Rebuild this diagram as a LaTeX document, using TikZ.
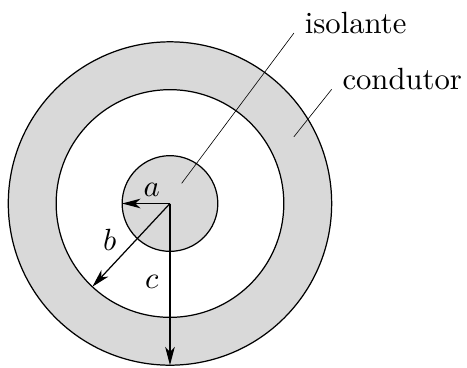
\documentclass[tikz,border=0pt]{standalone}
\usetikzlibrary{arrows.meta}
\tikzset{
    radiusarrow/.style={-{Stealth[length=2.1mm,width=1.1mm,inset=0.6mm]}},
    leader/.style={very thin},
}
\begin{document}
\begin{tikzpicture}
    \useasboundingbox (-1.947,-1.873) rectangle (3.402,2.331);
    % Rings
    \fill[black!15] (0,0) circle (1.852);
    \fill[white] (0,0) circle (1.304);
    \fill[black!15] (0,0) circle (0.548);
    \foreach \r in {0.548,1.304,1.852} {
        \draw (0,0) circle (\r);
    }
    % Radii
    \coordinate (O) at (0,0);
    \coordinate (A) at (180:0.548);
    \coordinate (B) at (227:1.304);
    \coordinate (C) at (270:1.852);
    \draw[radiusarrow] (O) -- (A);
    \draw[radiusarrow] (O) -- (B);
    \draw[radiusarrow] (O) -- (C);
    \node (la) at (-0.21,0.16) {$a$};
    \node (lb) at (-0.69,-0.42) {$b$};
    \node (lc) at (-0.21,-0.90) {$c$};
    % Labels
    \coordinate (isoPt) at (0.134,0.231);
    \node (iso) [anchor=base west] at (1.42,1.953) {isolante};
    \draw[leader] (isoPt) -- (iso.base west);
    \coordinate (condPt) at (1.42,0.765);
    \node (cond) [anchor=base west] at (1.852,1.308) {condutor};
    \draw[leader] (condPt) -- (cond.base west);
\end{tikzpicture}
\end{document}
